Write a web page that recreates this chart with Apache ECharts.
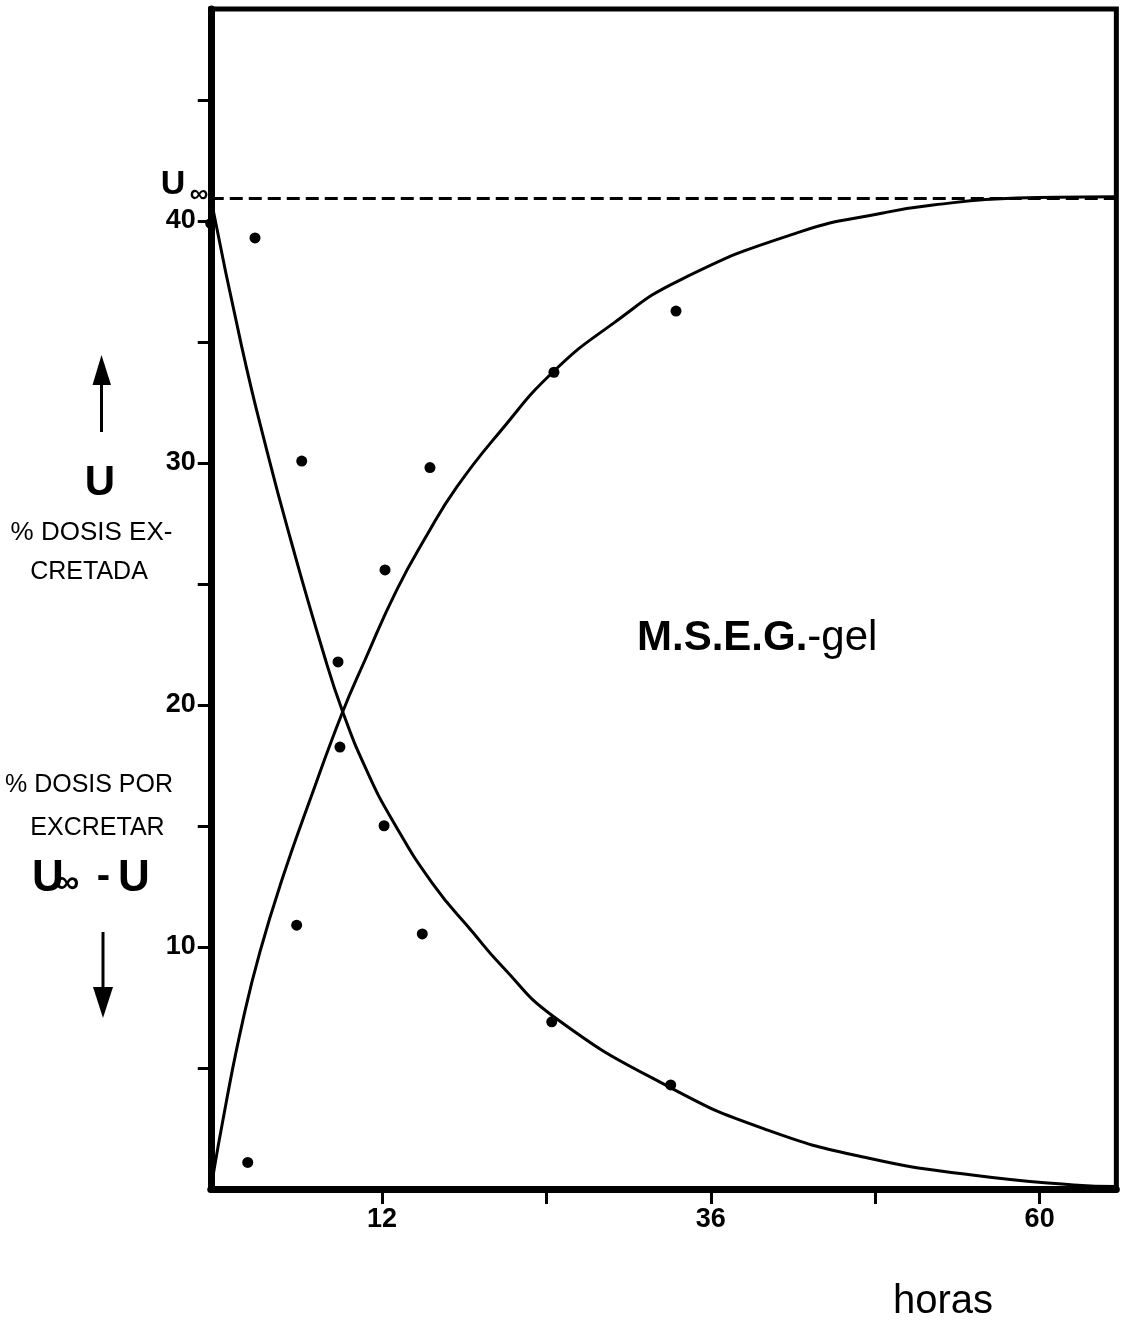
<!DOCTYPE html>
<html>
<head>
<meta charset="utf-8">
<script src="https://cdn.jsdelivr.net/npm/echarts@6/dist/echarts.min.js"></script>
<style>
html,body{margin:0;padding:0;background:#fff;}
#chart{width:1122px;height:1327px;}
</style>
</head>
<body>
<div id="chart"></div>
<script>
// ---- data ----
const U_INF = 40.95;                       // asymptote U∞ (% dose)
// smooth curve U (rising) : hours / % dose excreted
const curveUHours = [-0.5, 0.66, 1.85, 3.09, 4.77, 6.74, 9.13, 10.76, 13.07, 15.26, 17.45, 20.61, 24.5, 28.88, 33.75, 42.51, 48.57, 52.22, 58.35, 63.17, 65.6];
const curveUValues = [0, 3.68, 6.98, 9.8, 12.9, 16.07, 19.72, 21.86, 24.75, 27.0, 29.0, 31.29, 33.77, 35.77, 37.56, 39.55, 40.33, 40.66, 40.95, 40.99, 41.0];
// smooth curve U∞ - U (falling)
const curveRHours = [-0.5, 1.76, 3.6, 5.3, 7.7, 9.13, 10.88, 12.8, 15.72, 18.64, 20.61, 24.54, 32.91, 40.1, 47.55, 55.07, 62.48, 65.6];
const curveRValues = [40.95, 34.81, 30.5, 26.9, 22.2, 19.72, 17.3, 15.2, 12.6, 10.6, 9.3, 7.12, 4.23, 2.44, 1.27, 0.58, 0.17, 0.1];
// observed points, U
const obsUHours = [2.2, 5.77, 8.93, 12.22, 15.5, 24.55, 33.46];
const obsUValues = [1.1, 10.9, 18.26, 25.58, 29.81, 33.75, 36.28];
// observed points, U∞ - U
const obsRHours = [-0.5, 2.73, 6.14, 8.79, 12.15, 14.94, 24.39, 33.07];
const obsRValues = [39.9, 39.3, 30.08, 21.78, 15.01, 10.54, 6.91, 4.3];
// axes
const xTickValues = [12, 24, 36, 48, 60];
const xLabelValues = [12, 36, 60];
const yTickValues = [5, 10, 15, 20, 25, 30, 35, 40, 45];
const yLabelValues = [10, 20, 30, 40];
const X_MIN = -0.5, X_MAX = 65.6, Y_MIN = 0, Y_MAX = 48.76;

const zip = (a, b) => a.map((v, i) => [v, b[i]]);
const FONT = '"Liberation Sans", Arial, Helvetica, sans-serif';

const chart = echarts.init(document.getElementById('chart'), null, {renderer: 'canvas'});

function txt(text, x, y, size, weight, align) {
  return {
    type: 'text', silent: true,
    style: {
      text: text, x: x, y: y, fill: '#000',
      font: (weight || 'normal') + ' ' + size + 'px ' + FONT,
      textAlign: align || 'center', textVerticalAlign: 'middle'
    }
  };
}

const option = {
  backgroundColor: '#fff',
  animation: false,
  grid: {
    left: 210.75, top: 9, right: 5.65, bottom: 138,
    show: true, borderColor: '#000', borderWidth: 5,
    outerBoundsMode: 'none'
  },
  xAxis: {
    type: 'value', min: X_MIN, max: X_MAX,
    splitLine: {show: false},
    axisLine: {show: true, onZero: false, lineStyle: {color: '#000', width: 7}},
    axisTick: {show: true, customValues: xTickValues, length: 15, lineStyle: {color: '#000', width: 3}},
    axisLabel: {show: true, customValues: xLabelValues, margin: 17, color: '#000',
      fontFamily: FONT, fontSize: 27, fontWeight: 'bold'}
  },
  yAxis: {
    type: 'value', min: Y_MIN, max: Y_MAX,
    splitLine: {show: false},
    axisLine: {show: true, onZero: false, lineStyle: {color: '#000', width: 7}},
    axisTick: {show: true, customValues: yTickValues, length: 13, lineStyle: {color: '#000', width: 3}},
    axisLabel: {show: true, customValues: yLabelValues, margin: 15, color: '#000',
      fontFamily: FONT, fontSize: 27, fontWeight: 'bold'}
  },
  series: [
    {
      name: 'U', type: 'line', data: zip(curveUHours, curveUValues),
      showSymbol: false, symbol: 'none', smooth: 0.5,
      lineStyle: {color: '#000', width: 3}, z: 3,
      markLine: {
        silent: true, symbol: 'none', animation: false,
        label: {show: false},
        lineStyle: {color: '#000', width: 3, type: [13, 6]},
        data: [{yAxis: U_INF}]
      }
    },
    {
      name: 'U∞ - U', type: 'line', data: zip(curveRHours, curveRValues),
      showSymbol: false, symbol: 'none', smooth: 0.5,
      lineStyle: {color: '#000', width: 3}, z: 3
    },
    {
      name: 'U obs', type: 'scatter', data: zip(obsUHours, obsUValues),
      symbol: 'circle', symbolSize: 11, clip: false,
      itemStyle: {color: '#000', opacity: 1}, z: 4
    },
    {
      name: 'U∞ - U obs', type: 'scatter', data: zip(obsRHours, obsRValues),
      symbol: 'circle', symbolSize: 11, clip: false,
      itemStyle: {color: '#000', opacity: 1}, z: 4
    }
  ],
  graphic: [
    // U∞ label at top of axis
    txt('U', 173, 185, 34, 'bold'),
    txt('∞', 199, 195, 26, 'bold'),
    // upward arrow
    {type: 'line', silent: true, shape: {x1: 101.5, y1: 432, x2: 101.5, y2: 378}, style: {stroke: '#000', lineWidth: 3}},
    {type: 'polygon', silent: true, shape: {points: [[101.5, 355], [92.5, 385], [111, 385]]}, style: {fill: '#000'}},
    txt('U', 100, 483, 42, 'bold'),
    txt('% DOSIS EX-', 91.5, 532.5, 26),
    txt('CRETADA', 89, 572.5, 25),
    txt('% DOSIS POR', 89, 785, 25),
    txt('EXCRETAR', 97.5, 828.5, 25),
    txt('U', 48, 878.5, 44, 'bold'),
    txt('∞', 67, 884, 34, 'bold'),
    txt('-', 103.5, 877, 40, 'bold'),
    txt('U', 134, 878.5, 44, 'bold'),
    // downward arrow
    {type: 'line', silent: true, shape: {x1: 103, y1: 932, x2: 103, y2: 995}, style: {stroke: '#000', lineWidth: 3}},
    {type: 'polygon', silent: true, shape: {points: [[103, 1018], [93, 987], [113, 987]]}, style: {fill: '#000'}},
    // in-plot title
    {
      type: 'text', silent: true,
      style: {
        x: 637, y: 638, textVerticalAlign: 'middle', textAlign: 'left',
        text: '{b|M.S.E.G.}{r|-gel}',
        rich: {
          b: {fontFamily: FONT, fontSize: 42, fontWeight: 'bold', fill: '#000'},
          r: {fontFamily: FONT, fontSize: 42, fontWeight: 'normal', fill: '#000'}
        }
      }
    },
    txt('horas', 893, 1302, 40, 'normal', 'left')
  ]
};
chart.setOption(option);
</script>
</body>
</html>
